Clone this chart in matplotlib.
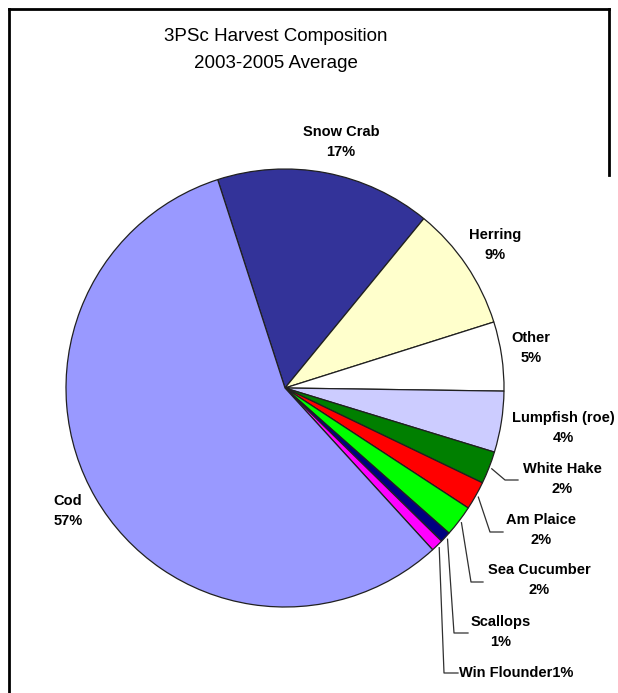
import matplotlib
matplotlib.use("Agg")
import matplotlib.pyplot as plt
import numpy as np

# ---- data ----
species = ["Snow Crab", "Herring", "Other", "Lumpfish (roe)", "White Hake",
           "Am Plaice", "Sea Cucumber", "Scallops", "Win Flounder", "Cod"]
shares = [15.9, 9.2, 5.1, 4.5, 2.4, 2.1, 2.3, 0.8, 0.9, 56.8]
pct_labels = [17, 9, 5, 4, 2, 2, 2, 1, 1, 57]
colors = ["#333399", "#FFFFCC", "#FFFFFF", "#CCCCFF", "#007F00",
          "#FF0000", "#00FF00", "#000080", "#FF00FF", "#9999FF"]
title = "3PSc Harvest Composition\n2003-2005 Average"

W, H = 618, 693
plt.rcParams['font.family'] = ['Liberation Sans', 'DejaVu Sans']

fig = plt.figure(figsize=(W / 100, H / 100), dpi=100)
ax = fig.add_axes([0, 0, 1, 1])

def Y(y):
    return H - y

cx, cy, R = 285, Y(388), 219
wedges, _ = ax.pie(shares, colors=colors, startangle=107.9, counterclock=False,
                   center=(cx, cy), radius=R, frame=True,
                   wedgeprops=dict(edgecolor="#202020", linewidth=0.9))
ax.set_xlim(0, W)
ax.set_ylim(0, H)
ax.set_aspect('equal', adjustable='box')
ax.axis('off')

# frame
ax.plot([9, 9], [Y(9), Y(H + 5)], color='black', lw=2.0, solid_capstyle='projecting')
ax.plot([9, 609], [Y(9), Y(9)], color='black', lw=2.0, solid_capstyle='projecting')
ax.plot([609, 609], [Y(9), Y(175)], color='black', lw=2.0, solid_capstyle='projecting')

ax.text(276, Y(50), title, ha='center', va='center', fontsize=13.5,
        linespacing=1.7)

FS = 10.5
lab_kw = dict(ha='center', va='center', fontsize=FS, fontweight='bold',
              linespacing=1.55)

# label positions (image px) for direct labels
direct = {"Snow Crab": (341, 142), "Herring": (495, 245), "Other": (531, 348),
          "Lumpfish (roe)": (563, 428), "Cod": (68, 511)}
# leader labels: text center, elbow point, end of horizontal tick
leader = {"White Hake": ((562, 479), (505, 480), 518),
          "Am Plaice": ((541, 530), (490, 532), 503),
          "Sea Cucumber": ((539, 580), (471, 582), 483),
          "Scallops": ((501, 632), (454, 633), 468)}

for w, name, p in zip(wedges, species, pct_labels):
    mid = np.deg2rad((w.theta1 + w.theta2) / 2)
    sx, sy = cx + (R + 3) * np.cos(mid), cy + (R + 3) * np.sin(mid)
    if name in direct:
        x, y = direct[name]
        ax.text(x, Y(y), f"{name}\n{p}%", **lab_kw)
    elif name in leader:
        (tx, ty), (ex, ey), hx = leader[name]
        ax.plot([sx, ex, hx], [sy, Y(ey), Y(ey)], color='#303030', lw=0.9)
        ax.text(tx, Y(ty), f"{name}\n{p}%", **lab_kw)
    else:  # Win Flounder, single-line
        ax.plot([sx, 444, 458], [sy, Y(673), Y(673)], color='#303030', lw=0.9)
        ax.text(459, Y(673), f"{name}{p}%", ha='left', va='center',
                fontsize=FS, fontweight='bold')

fig.savefig("out.png", dpi=100)
